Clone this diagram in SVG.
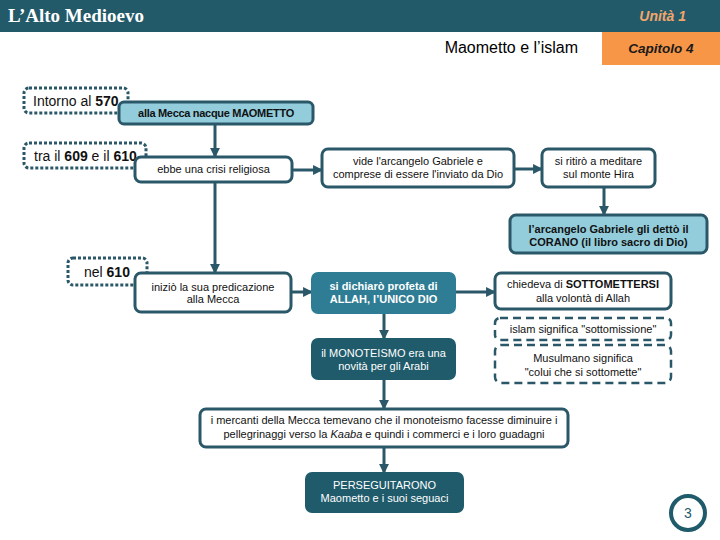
<svg xmlns="http://www.w3.org/2000/svg" width="720" height="540" viewBox="0 0 720 540">
<defs>
<marker id="arr" viewBox="0 0 10 10" refX="9" refY="5" markerWidth="3.3" markerHeight="3.3" orient="auto" markerUnits="strokeWidth">
<path d="M0,0 L10,5 L0,10 Z" fill="#2A5868"/>
</marker>
<style>
text{font-family:"Liberation Sans",Arial,sans-serif;font-size:11px;fill:#111;text-anchor:middle}
.box{fill:#fff;stroke:#2A5868;stroke-width:3}
.lb{fill:#93CDDC;stroke:#2A5868;stroke-width:3}
.dk{fill:#1F5B6B;stroke:#1F5B6B;stroke-width:2}
.md{fill:#2F7D94;stroke:#2F7D94;stroke-width:2}
.dot{fill:#fff;stroke:#2A5868;stroke-width:3;stroke-dasharray:3 2}
.dash{fill:#fff;stroke:#2A5868;stroke-width:2.5;stroke-dasharray:8 5}
.w{fill:#fff}
.b{font-weight:bold}
.big{font-size:14px;text-anchor:start}
.con{stroke:#2A5868;stroke-width:3;fill:none;marker-end:url(#arr)}
</style>
</defs>
<rect width="720" height="540" fill="#fff"/>
<g id="header">
<rect x="0" y="0" width="720" height="32" fill="#235A6A"/>
<text x="8" y="22" style="font-family:'Liberation Serif',serif;font-weight:bold;font-size:19px;fill:#fff;text-anchor:start">L’Alto Medioevo</text>
<text x="686" y="21" style="font-weight:bold;font-style:italic;font-size:14px;fill:#F2A66A;text-anchor:end">Unità 1</text>
<rect x="602" y="32" width="118" height="33" fill="#F79646"/>
<text x="661" y="53" style="font-weight:bold;font-style:italic;font-size:13.5px;fill:#1a1a1a">Capitolo 4</text>
<text x="578" y="53" style="font-size:16px;fill:#000;text-anchor:end">Maometto e l’islam</text>
</g>
<g id="d570"><rect class="dot" x="24" y="88" width="104" height="25" rx="5"/><text class="big" x="33" y="106">Intorno al <tspan class="b">570</tspan></text></g>
<g id="d609"><rect class="dot" x="24" y="143" width="122" height="25" rx="5"/><text class="big" x="34" y="161">tra il <tspan class="b">609</tspan> e il <tspan class="b">610</tspan></text></g>
<g id="d610"><rect class="dot" x="68" y="258" width="79" height="27" rx="5"/><text class="big" x="84" y="277">nel <tspan class="b">610</tspan></text></g>
<g id="connectors">
<line class="con" x1="215" y1="125" x2="215" y2="157"/>
<line class="con" x1="292" y1="170" x2="322" y2="170"/>
<line class="con" x1="514" y1="169" x2="542" y2="169"/>
<line class="con" x1="604" y1="188" x2="604" y2="215"/>
<line class="con" x1="215" y1="182" x2="215" y2="273"/>
<line class="con" x1="291" y1="292" x2="312" y2="292"/>
<line class="con" x1="455" y1="292" x2="495" y2="292"/>
<line class="con" x1="384" y1="313" x2="384" y2="339"/>
<line class="con" x1="384" y1="379" x2="384" y2="409"/>
<line class="con" x1="384" y1="447" x2="384" y2="473"/>
</g>
<g id="mecca"><rect class="lb" x="119" y="102" width="194" height="22" rx="5"/><text class="b" x="216" y="117" style="letter-spacing:-0.3px">alla Mecca nacque MAOMETTO</text></g>
<g id="ebbe"><rect class="box" x="135" y="157" width="157" height="25" rx="6"/><text x="213.5" y="173">ebbe una crisi religiosa</text></g>
<g id="vide"><rect class="box" x="322" y="149" width="192" height="38" rx="6"/><text x="418" y="165">vide l'arcangelo Gabriele e</text><text x="418" y="178">comprese di essere l'inviato da Dio</text></g>
<g id="ritiro"><rect class="box" x="542" y="149" width="113" height="38" rx="6"/><text x="598.5" y="165">si ritirò a meditare</text><text x="598.5" y="178">sul monte Hira</text></g>
<g id="gabriele"><rect class="lb" x="510" y="215" width="197" height="38" rx="6"/><text class="b" x="608.5" y="233">l’arcangelo Gabriele gli dettò il</text><text class="b" x="608.5" y="246">CORANO (il libro sacro di Dio)</text></g>
<g id="inizio"><rect class="box" x="135" y="273" width="156" height="39" rx="6"/><text x="213" y="291">iniziò la sua predicazione</text><text x="213" y="303">alla Mecca</text></g>
<g id="profeta"><rect class="md" x="312" y="273" width="143" height="40" rx="6"/><text class="b w" x="383.5" y="290">si dichiarò profeta di</text><text class="b w" x="383.5" y="303">ALLAH, l’UNICO DIO</text></g>
<g id="chiedeva"><rect class="box" x="495" y="273" width="176" height="36" rx="6"/><text x="583" y="288">chiedeva di <tspan class="b">SOTTOMETTERSI</tspan></text><text x="583" y="302">alla volontà di Allah</text></g>
<g id="islam"><rect class="dash" x="495" y="318" width="176" height="22" rx="5"/><text x="583" y="333">islam significa "sottomissione"</text></g>
<g id="musulmano"><rect class="dash" x="495" y="345" width="176" height="38" rx="6"/><text x="583" y="362">Musulmano significa</text><text x="583" y="376">"colui che si sottomette"</text></g>
<g id="monoteismo"><rect class="dk" x="312" y="339" width="143" height="40" rx="6"/><text class="w" x="383.5" y="357">il MONOTEISMO era una</text><text class="w" x="383.5" y="370">novità per gli Arabi</text></g>
<g id="mercanti"><rect class="box" x="200" y="409" width="368" height="38" rx="6"/><text x="384" y="424">i mercanti della Mecca temevano che il monoteismo facesse diminuire i</text><text x="384" y="438">pellegrinaggi verso la <tspan font-style="italic">Kaaba</tspan> e quindi i commerci e i loro guadagni</text></g>
<g id="perseguitarono"><rect class="dk" x="306" y="473" width="157" height="39" rx="6"/><text class="w" x="384.5" y="489">PERSEGUITARONO</text><text class="w" x="384.5" y="502">Maometto e i suoi seguaci</text></g>
<g id="page"><circle cx="688" cy="513" r="17" fill="#fff" stroke="#1F5B6B" stroke-width="4"/><text x="688" y="518" style="font-size:14px;fill:#1F5B6B">3</text></g>
</svg>
